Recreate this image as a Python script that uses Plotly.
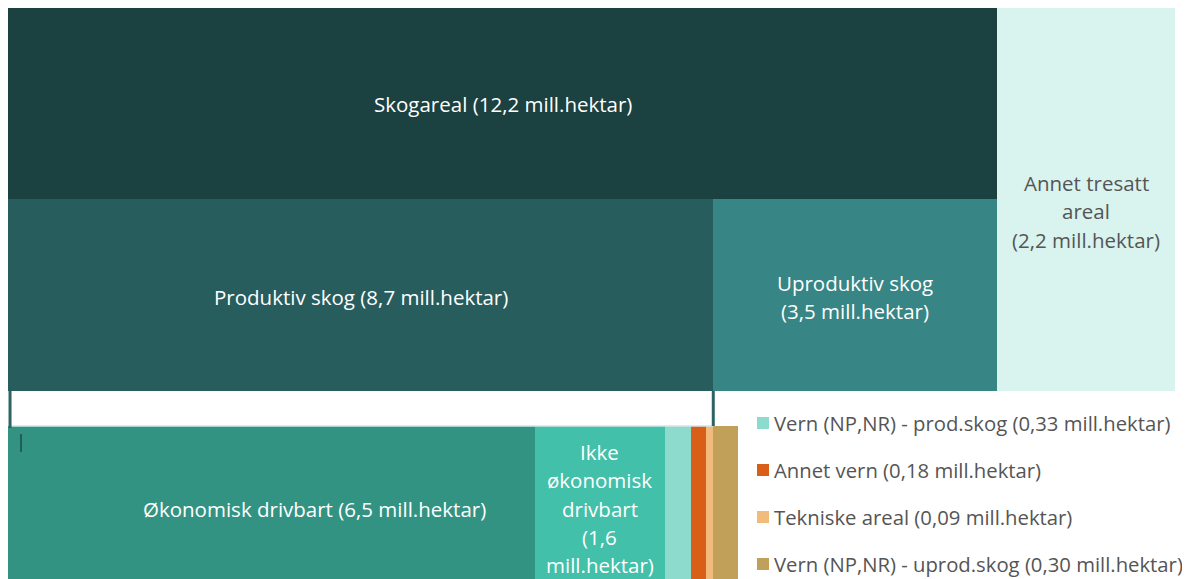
import plotly.graph_objects as go

# ---------------- data (mill. hektar) ----------------
row1_names = ["Skogareal", "Annet tresatt areal"]
row1_values = [12.2, 2.2]
row2_names = ["Produktiv skog", "Uproduktiv skog"]
row2_values = [8.7, 3.5]
row3_names = ["Økonomisk drivbart", "Ikke økonomisk drivbart",
              "Vern (NP,NR) - prod.skog", "Annet vern", "Tekniske areal",
              "Vern (NP,NR) - uprod.skog"]
row3_values = [6.5, 1.6, 0.33, 0.18, 0.09, 0.30]

labels = {
    "Skogareal": "Skogareal (12,2 mill.hektar)",
    "Annet tresatt areal": "Annet tresatt<br>areal<br>(2,2 mill.hektar)",
    "Produktiv skog": "Produktiv skog (8,7 mill.hektar)",
    "Uproduktiv skog": "Uproduktiv skog<br>(3,5 mill.hektar)",
    "Økonomisk drivbart": "Økonomisk drivbart (6,5 mill.hektar)",
    "Ikke økonomisk drivbart": "Ikke<br>økonomisk<br>drivbart<br>(1,6<br>mill.hektar)",
}
legend_names = ["Vern (NP,NR) - prod.skog (0,33 mill.hektar)",
                "Annet vern (0,18 mill.hektar)",
                "Tekniske areal (0,09 mill.hektar)",
                "Vern (NP,NR) - uprod.skog (0,30 mill.hektar)"]

colors = {
    "Skogareal": "#1b4140",
    "Annet tresatt areal": "#d9f3ee",
    "Produktiv skog": "#275d5d",
    "Uproduktiv skog": "#378585",
    "Økonomisk drivbart": "#339383",
    "Ikke økonomisk drivbart": "#42c0aa",
    "Vern (NP,NR) - prod.skog": "#8ddbcd",
    "Annet vern": "#d95f18",
    "Tekniske areal": "#f1bb7b",
    "Vern (NP,NR) - uprod.skog": "#c1a05a",
}
text_colors = {"Annet tresatt areal": "#555555"}
label_dx_px = {"Økonomisk drivbart": 43}

# ---------------- layout constants (page pixels) ----------------
OFF = 8.0                 # page (body) margin
W, H = 1190 - int(OFF), 579 - int(OFF)   # figure fits inside the window
X0 = 8.0                  # page x where the areas start
PX_PER = 989.0 / 12.2
xr = [(OFF - X0) / PX_PER, (OFF + W - X0) / PX_PER]
FS = 20.5
FS_LEG = 20.3

rows = {
    1: (8, 199),
    2: (199, 391),
    3: (426, 620),
}

fig = go.Figure()
annotations = []
FONT = "Open Sans"


def add_bar(name, start, value, y0, y1):
    fig.add_trace(go.Bar(
        orientation="h", x=[value], base=[start], y=[(y0 + y1) / 2],
        width=[y1 - y0], marker=dict(color=colors[name], line=dict(width=0)),
        showlegend=False, hoverinfo="text", hovertext=name, name=name,
    ))


def add_label(name, cx, cy, anchor="middle", spacing=28.3):
    if name not in labels:
        return
    cx = cx + label_dx_px.get(name, 0) / PX_PER
    lines = labels[name].split("<br>")
    n = len(lines)
    for i, ln in enumerate(lines):
        if anchor == "middle":
            y = cy + (i - (n - 1) / 2) * spacing
        else:
            y = cy + i * spacing
        annotations.append(dict(
            x=cx, y=y, xref="x", yref="y", text=ln, showarrow=False,
            font=dict(family=FONT, size=FS, color=text_colors.get(name, "white")),
            xanchor="center", yanchor="middle"))


# row 1 (Skogareal) + Annet tresatt spanning rows 1-2
add_bar(row1_names[0], 0, row1_values[0], *rows[1])
add_label(row1_names[0], row1_values[0] / 2, 104)
add_bar(row1_names[1], row1_values[0], row1_values[1], rows[1][0], rows[2][1])
add_label(row1_names[1], row1_values[0] + row1_values[1] / 2, 183, anchor="top")

# row 2
s = 0.0
for nm, v in zip(row2_names, row2_values):
    add_bar(nm, s, v, *rows[2])
    add_label(nm, s + v / 2, 297)
    s += v

# row 3
s = 0.0
for nm, v in zip(row3_names, row3_values):
    add_bar(nm, s, v, *rows[3])
    add_label(nm, s + v / 2, 508.5)
    s += v

shapes = []
# white spacer box between productive forest and its breakdown
prod = row2_values[0]
shapes.append(dict(type="rect", xref="x", yref="y", x0=0, x1=prod, y0=391, y1=426,
                   fillcolor="white", line=dict(width=0), layer="above"))
shapes.append(dict(type="line", xref="x", yref="y", x0=0.01, x1=prod, y0=426, y1=426,
                   line=dict(color="#d5e6e6", width=1.5), layer="above"))
shapes.append(dict(type="line", xref="x", yref="y", x0=0.025, x1=0.025, y0=391, y1=428,
                   line=dict(color="#2c6464", width=3), layer="above"))
shapes.append(dict(type="line", xref="x", yref="y", x0=prod, x1=prod, y0=391, y1=426,
                   line=dict(color="#2c6464", width=3), layer="above"))
# small tick mark
shapes.append(dict(type="line", xref="x", yref="y", x0=13 / PX_PER, x1=13 / PX_PER,
                   y0=434, y1=452, line=dict(color="#1f5f55", width=2), layer="above"))
# top border
shapes.append(dict(type="line", xref="x", yref="y", x0=0, x1=sum(row1_values),
                   y0=7.5, y1=7.5, line=dict(color="#c8c8c8", width=1), layer="above"))

# custom legend for the small categories
leg_y = [423, 470, 517, 564]
for nm, txt, ly in zip(row3_names[2:], legend_names, leg_y):
    shapes.append(dict(type="rect", xref="paper", yref="y",
                       x0=(757 - OFF) / W, x1=(769 - OFF) / W, y0=ly - 6, y1=ly + 6,
                       fillcolor=colors[nm], line=dict(width=0)))
    annotations.append(dict(x=(772 - OFF) / W, y=ly, xref="paper", yref="y", text=txt,
                            showarrow=False, xanchor="left", yanchor="middle",
                            font=dict(family=FONT, size=FS_LEG, color="#555555")))

fig.update_layout(
    width=W, height=H,
    margin=dict(l=0, r=0, t=0, b=0),
    paper_bgcolor="white", plot_bgcolor="white",
    barmode="overlay", bargap=0,
    xaxis=dict(range=xr, visible=False, fixedrange=True),
    yaxis=dict(range=[OFF + H, OFF], visible=False, fixedrange=True),
    shapes=shapes, annotations=annotations, showlegend=False,
)

fig.write_html("out.html")
